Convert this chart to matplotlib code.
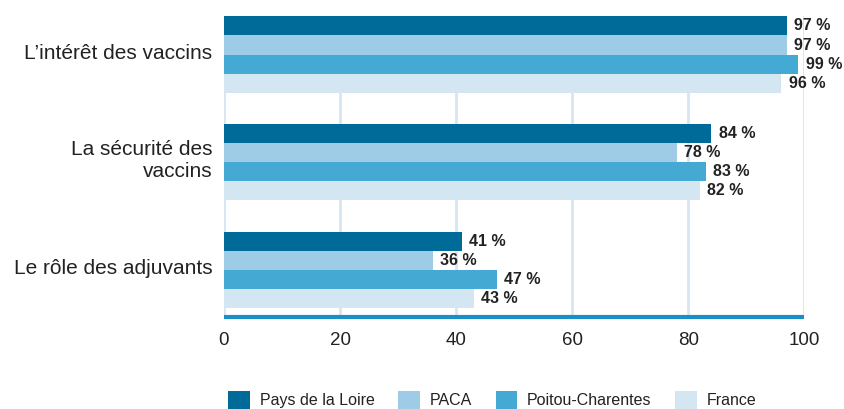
import matplotlib.pyplot as plt
import matplotlib.transforms as mtransforms
import numpy as np
from matplotlib.patches import Patch

categories = ["L\u2019intérêt des vaccins", "La sécurité des\nvaccins", "Le rôle des adjuvants"]
series = ["Pays de la Loire", "PACA", "Poitou-Charentes", "France"]
values = {
    "Pays de la Loire": [97, 84, 41],
    "PACA": [97, 78, 36],
    "Poitou-Charentes": [99, 83, 47],
    "France": [96, 82, 43],
}
colors = ["#006b99", "#9ecbe5", "#45aad3", "#d4e6f2"]

plt.rcParams['font.family'] = ['Liberation Sans', 'DejaVu Sans']

fig = plt.figure(figsize=(8.45, 4.09), dpi=100)
ax = fig.add_axes([224 / 845, 1 - 317 / 409, 580.3 / 845, 301 / 409])

bar_h = 19 / 107.5
y = np.arange(len(categories))
for k, name in enumerate(series):
    pos = y - 1.5 * bar_h + k * bar_h
    ax.barh(pos, values[name], height=bar_h, color=colors[k], zorder=3)
    for p, v in zip(pos, values[name]):
        ax.text(v + 1.3, p, f"{v} %", va='center', ha='left', fontsize=11.5,
                fontweight='bold', color='#222222', zorder=4)

ax.set_xlim(0, 100)
ax.set_ylim(2.44, -0.358)
ax.set_yticks(y)
ax.set_yticklabels(categories, fontsize=15, color='#222222', linespacing=1.2)
ax.set_xticks([0, 20, 40, 60, 80, 100])
ax.tick_params(axis='x', labelsize=13.5, colors='#222222', length=0, pad=11)
ax.tick_params(axis='y', length=0, pad=8.5)
for lab, dy in zip(ax.get_yticklabels(), [3, 5, 3]):
    lab.set_horizontalalignment('right')
    lab.set_transform(lab.get_transform() + mtransforms.ScaledTranslation(0, dy / 100, fig.dpi_scale_trans))

ax.grid(axis='x', color='#d5e6f2', linewidth=2, zorder=0)
for s in ['top', 'right', 'left']:
    ax.spines[s].set_visible(False)
ax.spines['bottom'].set_color('#1a8fc7')
ax.spines['bottom'].set_linewidth(3)
ax.spines['bottom'].set_capstyle('butt')

handles = [Patch(facecolor=c, edgecolor='none') for c in colors]
fig.legend(handles, series, loc='center left', bbox_to_anchor=(214 / 845, 1 - 400 / 409),
           ncol=4, frameon=False, fontsize=11.5, handlelength=1.35, handleheight=1.35,
           handletextpad=0.6, columnspacing=1.5, labelcolor='#222222')

fig.savefig("out.png", dpi=100)
